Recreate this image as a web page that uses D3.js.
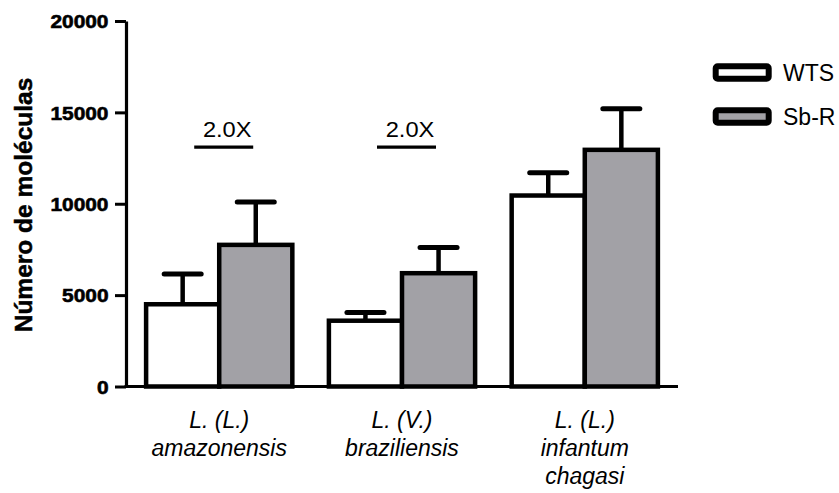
<!DOCTYPE html>
<html>
<head>
<meta charset="utf-8">
<script src="https://cdn.jsdelivr.net/npm/d3@7"></script>
<style>
  html, body { margin: 0; padding: 0; background: #fff; }
  svg { display: block; }
  text { font-family: Arial, "Liberation Sans", sans-serif; fill: #000; }
</style>
</head>
<body>
<svg id="chart" width="839" height="493"></svg>
<script>
// ---- data ----
const categories = [
  ["L. (L.)", "amazonensis"],
  ["L. (V.)", "braziliensis"],
  ["L. (L.)", "infantum", "chagasi"]
];
const series = ["WTS", "Sb-R"];
const wtsMean = [4500, 3600, 10450];
const wtsSD   = [1650, 450, 1250];
const sbrMean = [7750, 6200, 12950];
const sbrSD   = [2350, 1400, 2250];
const yTicks  = [0, 5000, 10000, 15000, 20000];
const foldGroups = [0, 1];
const foldValues = [13100, 13100];
const foldLabels = ["2.0X", "2.0X"];
const yTitle = "Número de moléculas";

// ---- layout ----
const svg = d3.select("#chart");
const colors = {"WTS": "#ffffff", "Sb-R": "#a2a1a6"};

const x = d3.scaleBand().domain(d3.range(categories.length))
  .range([126, 678]).paddingInner(0.2).paddingOuter(0.11);
const xs = d3.scaleBand().domain(series).range([0, x.bandwidth()]);
const y = d3.scaleLinear().domain([0, 20000]).range([386.5, 21]);

const rows = [];
categories.forEach((c, i) => {
  rows.push({g: i, s: "WTS", v: wtsMean[i], e: wtsSD[i]});
  rows.push({g: i, s: "Sb-R", v: sbrMean[i], e: sbrSD[i]});
});

// error bars (behind bars)
const eb = svg.append("g");
rows.forEach(d => {
  const cx = x(d.g) + xs(d.s) + xs.bandwidth() / 2;
  eb.append("line").attr("x1", cx).attr("x2", cx)
    .attr("y1", y(d.v)).attr("y2", y(d.v + d.e))
    .attr("stroke", "#000").attr("stroke-width", 4.5);
  eb.append("line").attr("x1", cx - 18.5).attr("x2", cx + 18.5)
    .attr("y1", y(d.v + d.e)).attr("y2", y(d.v + d.e))
    .attr("stroke", "#000").attr("stroke-width", 5).attr("stroke-linecap", "round");
});

// bars
svg.append("g").selectAll("rect").data(rows).join("rect")
  .attr("x", d => x(d.g) + xs(d.s))
  .attr("width", xs.bandwidth())
  .attr("y", d => y(d.v))
  .attr("height", d => y(0) - y(d.v))
  .attr("fill", d => colors[d.s])
  .attr("stroke", "#000").attr("stroke-width", 4.5);

// y axis
const ax = svg.append("g").attr("transform", "translate(126,0)")
  .call(d3.axisLeft(y).tickValues(yTicks).tickSize(11).tickSizeOuter(0).tickFormat(d3.format("d")));
ax.select(".domain").attr("stroke", "#000").attr("stroke-width", 3.2);
ax.selectAll(".tick line").attr("stroke", "#000").attr("stroke-width", 3);
ax.selectAll(".tick text")
  .attr("x", 0).attr("dy", "0.36em")
  .attr("transform", "translate(-17.5,0) scale(1.13,1)")
  .style("font-size", "18.5px").style("font-weight", "bold")
  .style("stroke", "#000").style("stroke-width", "0.6px")
  .attr("font-family", null);

// x axis line
svg.append("line").attr("x1", x.range()[0] - 1.5).attr("x2", x.range()[1])
  .attr("y1", y(0)).attr("y2", y(0))
  .attr("stroke", "#000").attr("stroke-width", 3.2);

// x labels
categories.forEach((lines, i) => {
  const t = svg.append("text")
    .attr("x", x(i) + x.bandwidth() / 2).attr("y", 428)
    .attr("text-anchor", "middle")
    .style("font-size", "23px").style("font-style", "italic");
  lines.forEach((l, j) => {
    t.append("tspan").attr("x", x(i) + x.bandwidth() / 2)
      .attr("dy", j === 0 ? 0 : 28).text(l);
  });
});

// y title
svg.append("text")
  .attr("transform", "translate(32,205) rotate(-90)")
  .attr("text-anchor", "middle")
  .style("font-size", "24.5px").style("font-weight", "bold")
  .style("stroke", "#000").style("stroke-width", "0.5px")
  .text(yTitle);

// fold-change annotations
foldGroups.forEach((g, k) => {
  const cx = x(g) + x.bandwidth() / 2;
  svg.append("line").attr("x1", cx - 25).attr("x2", cx + 34)
    .attr("y1", y(foldValues[k])).attr("y2", y(foldValues[k]))
    .attr("stroke", "#000").attr("stroke-width", 3.2);
  svg.append("text")
    .attr("transform", `translate(${cx + 8},${y(foldValues[k]) - 10.5}) scale(1.1,1)`)
    .attr("text-anchor", "middle")
    .style("font-size", "21.5px")
    .text(foldLabels[k]);
});

// legend
series.forEach((s, i) => {
  const yy = 66.3 + i * 44;
  svg.append("rect").attr("x", 715.7).attr("y", yy).attr("width", 53).attr("height", 12.4)
    .attr("rx", 2).attr("fill", colors[s]).attr("stroke", "#000").attr("stroke-width", 6);
  svg.append("text").attr("x", 783).attr("y", yy + 14.5)
    .style("font-size", "23px").text(s);
});
</script>
</body>
</html>
